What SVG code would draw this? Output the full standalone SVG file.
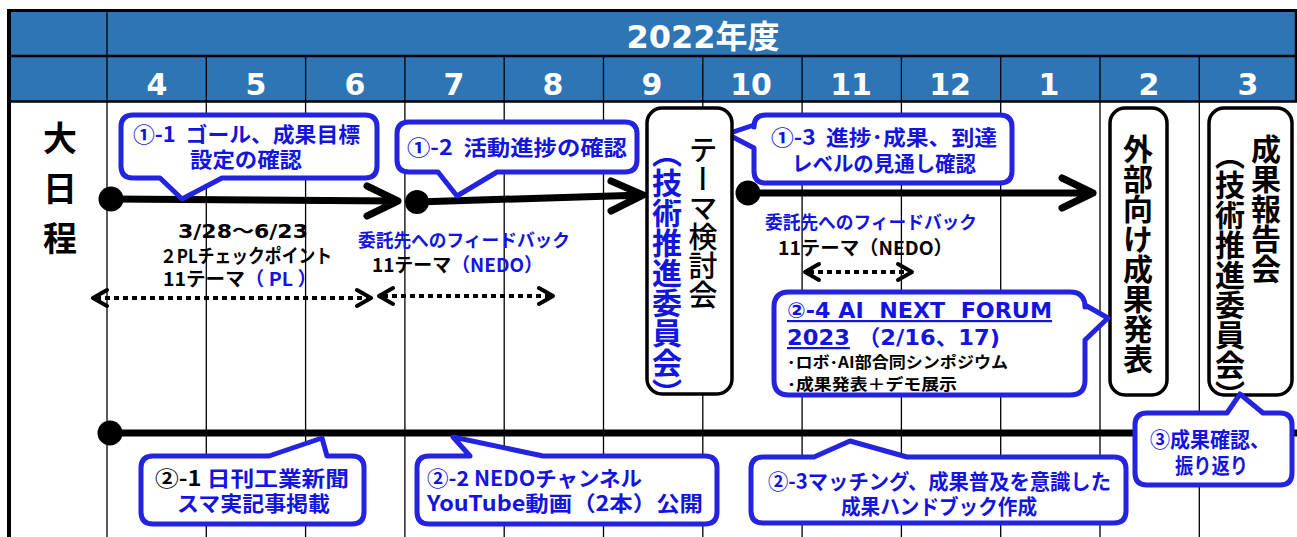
<svg xmlns="http://www.w3.org/2000/svg" width="1297" height="537" viewBox="0 0 1297 537">
<style>
.hd{fill:#2E75B6}
.hdt{fill:#fff;font-family:"DejaVu Sans","Noto Sans CJK JP",sans-serif;font-weight:bold;text-anchor:middle}
.grid{stroke:#000;stroke-width:1.3}
.jp{font-family:"Noto Sans CJK JP",sans-serif;font-weight:bold;white-space:pre}
.lat{font-family:"DejaVu Sans","Noto Sans CJK JP",sans-serif;font-weight:bold;white-space:pre}
.b{fill:#1414E0}
.k{fill:#000}
.co{fill:#fff;stroke:#2323E0;stroke-width:5;stroke-linejoin:round}
.vb{fill:#fff;stroke:#000;stroke-width:3.5}
.thick{fill:none;stroke:#000;stroke-width:7;stroke-linecap:round;stroke-linejoin:round}
.dot{stroke:#000;stroke-width:4;stroke-dasharray:5 4;fill:none}
.chev{fill:none;stroke:#000;stroke-width:4;stroke-linecap:round;stroke-linejoin:round}
.vt{writing-mode:vertical-rl;font-family:"Noto Sans CJK JP",sans-serif}
</style>
<rect x="0" y="0" width="1297" height="537" fill="#fff"/>
<g id="header">
<rect class="hd" x="9" y="10" width="1288" height="92"/>
<line x1="7" y1="10.5" x2="1297" y2="10.5" stroke="#000" stroke-width="3"/>
<line x1="9" y1="56" x2="1297" y2="56" stroke="#000" stroke-width="2.5"/>
<line x1="9" y1="101.5" x2="1297" y2="101.5" stroke="#000" stroke-width="2.5"/>
<line x1="1296" y1="9" x2="1296" y2="102" stroke="#000" stroke-width="2.5"/>
<text class="hdt" x="703" y="48" font-size="32">2022年度</text>
<g font-size="30">
<text class="hdt" x="157" y="95">4</text>
<text class="hdt" x="256" y="95">5</text>
<text class="hdt" x="355" y="95">6</text>
<text class="hdt" x="454" y="95">7</text>
<text class="hdt" x="553" y="95">8</text>
<text class="hdt" x="652" y="95">9</text>
<text class="hdt" x="751" y="95">10</text>
<text class="hdt" x="851" y="95">11</text>
<text class="hdt" x="950" y="95">12</text>
<text class="hdt" x="1049" y="95">1</text>
<text class="hdt" x="1149" y="95">2</text>
<text class="hdt" x="1248" y="95">3</text>
</g>
</g>
<g id="grid">
<line class="grid" x1="107" y1="10" x2="107" y2="537"/>
<line class="grid" x1="206.3" y1="56" x2="206.3" y2="537"/>
<line class="grid" x1="305.6" y1="56" x2="305.6" y2="537"/>
<line class="grid" x1="404.9" y1="56" x2="404.9" y2="537"/>
<line class="grid" x1="504.2" y1="56" x2="504.2" y2="537"/>
<line class="grid" x1="603.5" y1="56" x2="603.5" y2="537"/>
<line class="grid" x1="702.8" y1="56" x2="702.8" y2="537"/>
<line class="grid" x1="802.1" y1="56" x2="802.1" y2="537"/>
<line class="grid" x1="901.4" y1="56" x2="901.4" y2="537"/>
<line class="grid" x1="1000.7" y1="56" x2="1000.7" y2="537"/>
<line class="grid" x1="1100" y1="56" x2="1100" y2="537"/>
<line class="grid" x1="1199.3" y1="56" x2="1199.3" y2="537"/>
<line x1="9" y1="9" x2="9" y2="537" stroke="#000" stroke-width="4"/>
</g>
<g id="label-dainittei" class="jp" font-size="34" text-anchor="middle">
<text x="60" y="151">大</text>
<text x="60" y="201">日</text>
<text x="60" y="251">程</text>
</g>
<g id="connectors">
<circle cx="111" cy="199" r="12.5"/>
<path class="thick" d="M111 199 L398 201 M367 186 L398 201 L367 216"/>
<circle cx="417" cy="202" r="12"/>
<path class="thick" d="M417 202 L643 195 M611 181 L643 195 L611 211"/>
<circle cx="748" cy="193" r="12.5"/>
<path class="thick" d="M748 193 L1093 193 M1062 178 L1093 193 L1062 208"/>
<circle cx="110" cy="433" r="12.5"/>
<path class="thick" d="M110 433 L1300 433"/>
<line class="dot" x1="96" y1="298" x2="368" y2="298"/>
<path class="chev" d="M107 290 L93 298 L107 306 M357 290 L371 298 L357 306"/>
<line class="dot" x1="383" y1="296" x2="549" y2="296"/>
<path class="chev" d="M393 288 L379 296 L393 304 M539 288 L553 296 L539 304"/>
<line class="dot" x1="809" y1="272" x2="908" y2="272"/>
<path class="chev" d="M819 264 L805 272 L819 280 M898 264 L912 272 L898 280"/>
</g>
<g id="node-1-1">
<path class="co" d="M133 115 H365 Q377 115 377 127 V166 Q377 178 365 178 H222 L182 199 L160 178 H133 Q121 178 121 166 V127 Q121 115 133 115 Z"/>
<text class="jp b" x="133" y="142" font-size="21" textLength="227" lengthAdjust="spacingAndGlyphs">①-1  ゴール、成果目標</text>
<text class="jp b" x="190" y="167" font-size="21" textLength="112" lengthAdjust="spacingAndGlyphs">設定の確認</text>
</g>
<g id="node-1-2">
<path class="co" d="M409 122 H625 Q637 122 637 134 V160 Q637 172 625 172 H497 L457 196 L438 172 H409 Q397 172 397 160 V134 Q397 122 409 122 Z"/>
<text class="jp b" x="407" y="155" font-size="21" textLength="220" lengthAdjust="spacingAndGlyphs">①-2  活動進捗の確認</text>
</g>
<g id="node-1-3">
<path class="co" d="M766 115 H1000 Q1012 115 1012 127 V171 Q1012 183 1000 183 H766 Q754 183 754 171 V148 L727 134 L754 125 V127 Q754 115 766 115 Z"/>
<text class="jp b" x="771" y="145" font-size="21" textLength="226" lengthAdjust="spacingAndGlyphs">①-3  進捗･成果、到達</text>
<text class="jp b" x="792" y="171" font-size="21" textLength="184" lengthAdjust="spacingAndGlyphs">レベルの見通し確認</text>
</g>
<g id="text-pl">
<text class="lat k" x="178" y="237.5" font-size="19" textLength="130" lengthAdjust="spacingAndGlyphs">3/28〜6/23</text>
<text class="jp k" x="160" y="263" font-size="19" textLength="172" lengthAdjust="spacingAndGlyphs">２PLチェックポイント</text>
<text class="jp k" x="163" y="286" font-size="19" textLength="154" lengthAdjust="spacingAndGlyphs">11テーマ<tspan class="b">（ PL ）</tspan></text>
</g>
<g id="text-fb-7">
<text class="jp b" x="358" y="246.7" font-size="18" textLength="212" lengthAdjust="spacingAndGlyphs">委託先へのフィードバック</text>
<text class="jp k" x="372" y="272" font-size="19" textLength="171" lengthAdjust="spacingAndGlyphs">11テーマ<tspan class="b">（NEDO）</tspan></text>
</g>
<g id="text-fb-11">
<text class="jp b" x="765" y="228.7" font-size="18" textLength="212" lengthAdjust="spacingAndGlyphs">委託先へのフィードバック</text>
<text class="jp k" x="778" y="255" font-size="19" textLength="175" lengthAdjust="spacingAndGlyphs">11テーマ（NEDO）</text>
</g>
<g id="node-theme">
<rect class="vb" x="647" y="108" width="85" height="286" rx="15"/>
<text class="vt" x="703" y="135" font-size="29" font-weight="500" fill="#000">テーマ検討会</text>
<text class="vt" x="667" y="138" font-size="30" font-weight="bold" fill="#1414E0">（技術推進委員会）</text>
</g>
<g id="node-external">
<rect class="vb" x="1110" y="108" width="57" height="287" rx="15"/>
<text class="vt" x="1138" y="134" font-size="30" font-weight="bold" fill="#000">外部向け成果発表</text>
</g>
<g id="node-report">
<rect class="vb" x="1209" y="108" width="83" height="287" rx="15"/>
<text class="vt" x="1266" y="134" font-size="30" font-weight="bold" fill="#000">成果報告会</text>
<text class="vt" x="1230" y="140" font-size="30" font-weight="bold" fill="#000">（技術推進委員会）</text>
</g>
<g id="node-2-4">
<path class="co" d="M789 292 H1070 Q1085 292 1085 307 V305 L1108 318 L1085 340 V380 Q1085 395 1070 395 H789 Q774 395 774 380 V307 Q774 292 789 292 Z"/>
<text class="lat b" x="787" y="318" font-size="22" textLength="265" lengthAdjust="spacingAndGlyphs" text-decoration="underline">②-4 AI  NEXT  FORUM</text>
<text class="lat b" x="787" y="345" font-size="22" textLength="213" lengthAdjust="spacingAndGlyphs"><tspan text-decoration="underline">2023</tspan> （2/16、17)</text>
<text class="jp k" x="787" y="368" font-size="16" textLength="221" lengthAdjust="spacingAndGlyphs">･ロボ･AI部合同シンポジウム</text>
<text class="jp k" x="787" y="390" font-size="16" textLength="170" lengthAdjust="spacingAndGlyphs">･成果発表＋デモ展示</text>
</g>
<g id="node-2-1">
<path class="co" d="M153 456 H269 L322 438 L327 456 H352 Q364 456 364 468 V512 Q364 524 352 524 H153 Q141 524 141 512 V468 Q141 456 153 456 Z"/>
<text class="jp k" x="155" y="486" font-size="21" textLength="194" lengthAdjust="spacingAndGlyphs">②-1 <tspan class="b">日刊工業新聞</tspan></text>
<text class="jp b" x="177" y="511" font-size="21" textLength="153" lengthAdjust="spacingAndGlyphs">スマ実記事掲載</text>
</g>
<g id="node-2-2">
<path class="co" d="M429 456 H470 L453 437 L543 456 H705 Q717 456 717 468 V512 Q717 524 705 524 H429 Q417 524 417 512 V468 Q417 456 429 456 Z"/>
<text class="jp b" x="427" y="486" font-size="21" textLength="215" lengthAdjust="spacingAndGlyphs">②-2 NEDOチャンネル</text>
<text class="jp b" x="427" y="511" font-size="21" textLength="276" lengthAdjust="spacingAndGlyphs">YouTube動画（2本）公開</text>
</g>
<g id="node-2-3">
<path class="co" d="M763 457 H814 L850 441 L907 457 H1114 Q1126 457 1126 469 V511 Q1126 523 1114 523 H763 Q751 523 751 511 V469 Q751 457 763 457 Z"/>
<text class="jp b" x="768" y="489" font-size="21" textLength="343" lengthAdjust="spacingAndGlyphs">②-3マッチング、成果普及を意識した</text>
<text class="jp b" x="841" y="514" font-size="21" textLength="196" lengthAdjust="spacingAndGlyphs">成果ハンドブック作成</text>
</g>
<g id="node-3">
<path class="co" d="M1147 413 H1227 L1240 394 L1263 413 H1280 Q1292 413 1292 425 V473 Q1292 485 1280 485 H1147 Q1135 485 1135 473 V425 Q1135 413 1147 413 Z"/>
<text class="jp b" x="1150" y="447" font-size="21" textLength="120" lengthAdjust="spacingAndGlyphs">③成果確認、</text>
<text class="jp b" x="1175" y="473" font-size="21" textLength="73" lengthAdjust="spacingAndGlyphs">振り返り</text>
</g>
</svg>
